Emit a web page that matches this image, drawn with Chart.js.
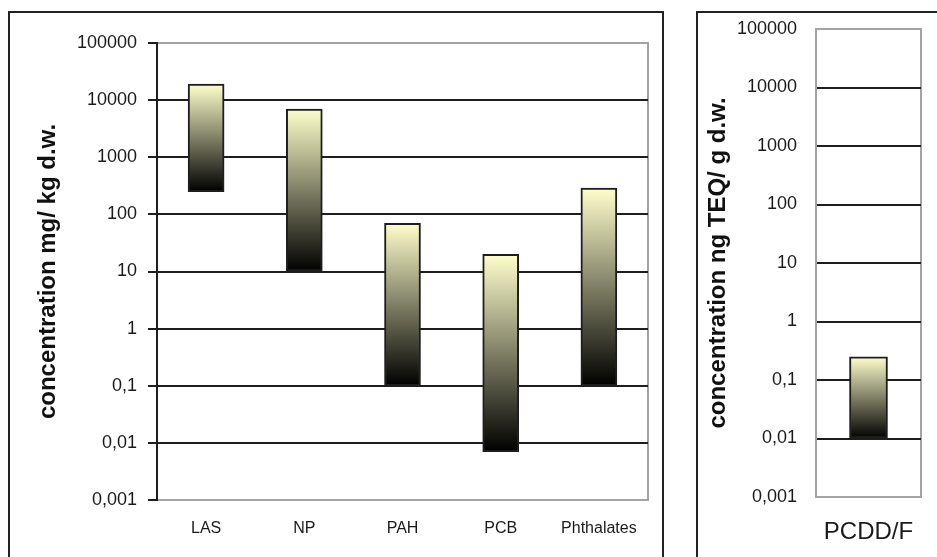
<!DOCTYPE html>
<html>
<head>
<meta charset="utf-8">
<title>Concentrations in sludge</title>
<script src="https://cdn.jsdelivr.net/npm/chart.js@4/dist/chart.umd.min.js"></script>
<style>
  body { margin: 0; background: #fff; width: 937px; height: 557px; overflow: hidden; position: relative; }
  .painel { position: absolute; box-sizing: border-box; border: 2px solid #222; background: #fff; }
  canvas { position: absolute; }
</style>
</head>
<body>
<div class="painel" style="left:8px;top:11px;width:656px;height:560px"></div>
<div class="painel" style="left:696px;top:11px;width:260px;height:560px"></div>
<canvas id="grafOrganicos" width="652" height="544" style="left:10px;top:13px"></canvas>
<canvas id="grafDioxinas" width="239" height="544" style="left:698px;top:13px"></canvas>
<script>
// faixas de concentração (min / max) por grupo de poluente
const categorias = ['LAS', 'NP', 'PAH', 'PCB', 'Phthalates']
const minimos = [250, 10, 0.1, 0.007, 0.1]
const maximos = [19000, 7000, 70, 20, 290]

const categoriaDioxinas = ['PCDD/F']
const minimoDioxinas = [0.01]
const maximoDioxinas = [0.25]

const valoresEixo = [0.001, 0.01, 0.1, 1, 10, 100, 1000, 10000, 100000]
const rotulosEixo = ['0,001', '0,01', '0,1', '1', '10', '100', '1000', '10000', '100000']

const FONTE = "'Liberation Sans', Arial, sans-serif"
const ESCURO = '#1e1e1e'
const CINZA = '#a3a3a3'

// barra clara no topo escurecendo até preto na base
function degrade(context) {
    const chart = context.chart
    if (!chart.chartArea || context.type !== 'data') return '#888'
    const y = chart.scales.y
    const [baixo, alto] = context.raw
    const g = chart.ctx.createLinearGradient(0, y.getPixelForValue(alto), 0, y.getPixelForValue(baixo))
    g.addColorStop(0, '#ffffcc')
    g.addColorStop(1, '#000000')
    return g
}

// contorno cinza da área de plotagem
const moldura = {
    id: 'moldura',
    beforeDraw(chart) {
        const { ctx, chartArea: a } = chart
        ctx.save()
        ctx.strokeStyle = CINZA
        ctx.lineWidth = 2
        ctx.strokeRect(a.left, a.top, a.right - a.left, a.bottom - a.top)
        ctx.restore()
    }
}

function corGrade(context) {
    const v = context.tick && context.tick.value
    return (v === valoresEixo[0] || v === valoresEixo[valoresEixo.length - 1]) ? CINZA : ESCURO
}

function eixoLog(titulo, recuoTitulo, largura, comMarcas, corBorda) {
    return {
        type: 'logarithmic',
        min: valoresEixo[0],
        max: valoresEixo[valoresEixo.length - 1],
        afterBuildTicks: s => { s.ticks = valoresEixo.map(v => ({ value: v })) },
        afterFit: s => { s.width = largura; s.paddingTop = 0; s.paddingBottom = 0 },
        ticks: {
            color: '#1a1a1a',
            font: { family: FONTE, size: 18 },
            padding: comMarcas ? 11 : 19,
            autoSkip: false,
            callback: (v, i) => rotulosEixo[i]
        },
        grid: {
            color: corGrade,
            lineWidth: 2,
            drawTicks: comMarcas,
            tickLength: 9,
            tickColor: ESCURO,
            tickWidth: 2
        },
        border: { color: corBorda, width: 2 },
        title: {
            display: true,
            text: titulo,
            color: '#111',
            font: { family: FONTE, size: 24, weight: 'bold' },
            padding: { top: recuoTitulo, bottom: 0 }
        }
    }
}

function eixoCategorias(tamanho, recuo, altura) {
    return {
        grid: { display: false, drawTicks: false },
        border: { display: false },
        ticks: { color: '#1a1a1a', font: { family: FONTE, size: tamanho }, padding: recuo },
        // sem folga extra para os rótulos: a área de plotagem fica fixa
        afterFit: s => { s.height = altura; s.paddingLeft = 0; s.paddingRight = 0 }
    }
}

function grafico(id, rotulos, baixos, altos, espessura, padding, eixoX, eixoY) {
    return new Chart(document.getElementById(id), {
        type: 'bar',
        data: {
            labels: rotulos,
            datasets: [{
                data: rotulos.map((r, i) => [baixos[i], altos[i]]),
                backgroundColor: degrade,
                borderColor: ESCURO,
                borderWidth: 2,
                borderSkipped: false,
                barThickness: espessura
            }]
        },
        options: {
            responsive: false,
            animation: false,
            layout: { padding },
            plugins: { legend: { display: false }, tooltip: { enabled: false } },
            scales: { x: eixoX, y: eixoY }
        },
        plugins: [moldura]
    })
}

grafico('grafOrganicos', categorias, minimos, maximos, 36,
    { left: 0, top: 30, right: 14, bottom: 0 },
    eixoCategorias(16, 19, 57),
    eixoLog('concentration mg/ kg d.w.', 24, 147, true, ESCURO))

grafico('grafDioxinas', categoriaDioxinas, minimoDioxinas, maximoDioxinas, 38,
    { left: 0, top: 16, right: 16, bottom: 0 },
    eixoCategorias(24, 21, 60),
    eixoLog('concentration ng TEQ/ g d.w.', 6, 118, false, CINZA))
</script>
</body>
</html>
